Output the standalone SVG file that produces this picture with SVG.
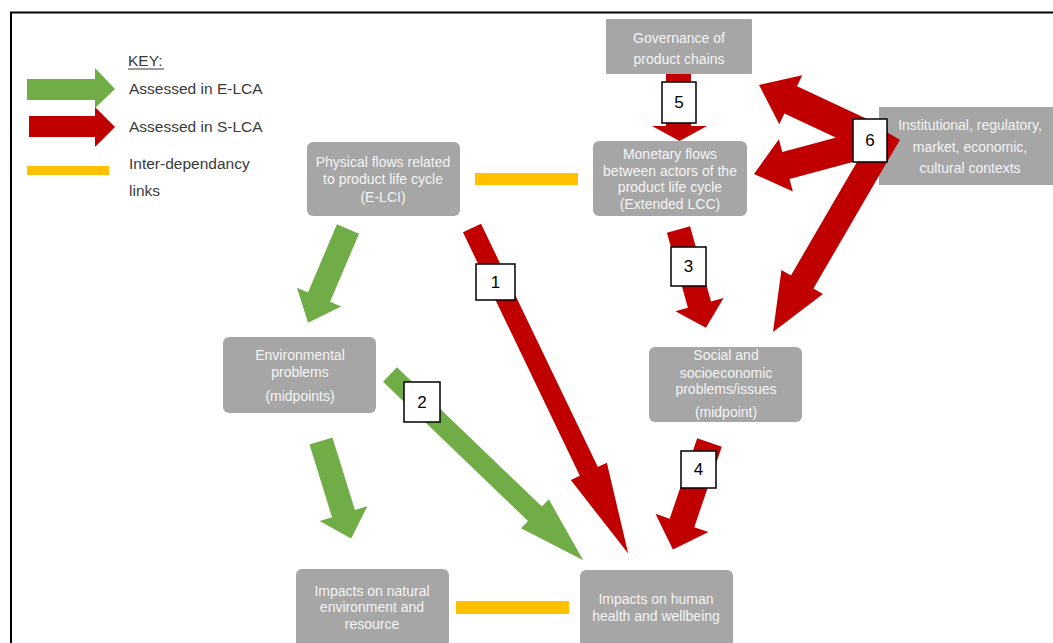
<svg xmlns="http://www.w3.org/2000/svg" width="1053" height="643" viewBox="0 0 1053 643">
  <style>
    .node { fill: #A6A6A6; }
    .ntext { font-family: "Liberation Sans", Arial, sans-serif; font-size: 14px; fill: #F4F4F4; text-anchor: middle; }
    .key { font-family: "Liberation Sans", Arial, sans-serif; font-size: 15.5px; fill: #3A3A3A; }
    .green { fill: #70AD47; }
    .red { fill: #C00000; }
    .link { fill: #FFC000; }
    .tag rect { fill: #FFFFFF; stroke: #000000; stroke-width: 1.5; }
    .tag text { font-family: "Liberation Sans", Arial, sans-serif; font-size: 17px; fill: #000000; text-anchor: middle; }
  </style>

  <rect width="1053" height="643" fill="#FFFFFF"/>

  <!-- frame -->
  <path d="M11 643 V12.5 H1053" fill="none" stroke="#000000" stroke-width="2"/>

  <!-- key -->
  <g id="legend">
    <text class="key" x="128" y="66">KEY:</text>
    <rect x="128" y="68.5" width="36" height="1" fill="#3A3A3A"/>
    <polygon class="green" points="27,79 95,79 95,68 115,89 95,108 95,100 27,100"/>
    <text class="key" x="129" y="94">Assessed in E-LCA</text>
    <polygon class="red" points="29,116 95,116 95,107 115,127 95,147 95,137 29,137"/>
    <text class="key" x="129" y="132">Assessed in S-LCA</text>
    <rect class="link" x="27" y="166" width="82" height="9"/>
    <text class="key" x="129" y="169">Inter-dependancy</text>
    <text class="key" x="129" y="196">links</text>
  </g>

  <!-- nodes -->
  <g id="node-governance">
    <rect class="node" x="606" y="19" width="146" height="55" rx="1"/>
    <text class="ntext" x="679" y="43">Governance of</text>
    <text class="ntext" x="679" y="64">product chains</text>
  </g>
  <g id="node-monetary">
    <rect class="node" x="593" y="141" width="154" height="75" rx="6"/>
    <text class="ntext" x="670" y="159">Monetary flows</text>
    <text class="ntext" x="670" y="176">between actors of the</text>
    <text class="ntext" x="670" y="192">product life cycle</text>
    <text class="ntext" x="670" y="209">(Extended LCC)</text>
  </g>
  <g id="node-institutional">
    <rect class="node" x="879" y="107" width="180" height="78"/>
    <text class="ntext" x="970" y="130">Institutional, regulatory,</text>
    <text class="ntext" x="970" y="152">market, economic,</text>
    <text class="ntext" x="970" y="173">cultural contexts</text>
  </g>
  <g id="node-physical">
    <rect class="node" x="307" y="142" width="153" height="74" rx="6"/>
    <text class="ntext" x="383" y="167">Physical flows related</text>
    <text class="ntext" x="383" y="184">to product life cycle</text>
    <text class="ntext" x="383" y="202">(E-LCI)</text>
  </g>
  <g id="node-environmental">
    <rect class="node" x="223" y="337" width="153" height="76" rx="6"/>
    <text class="ntext" x="300" y="360">Environmental</text>
    <text class="ntext" x="300" y="377">problems</text>
    <text class="ntext" x="300" y="401">(midpoints)</text>
  </g>
  <g id="node-social">
    <rect class="node" x="649" y="347" width="153" height="75" rx="6"/>
    <text class="ntext" x="726" y="360">Social and</text>
    <text class="ntext" x="726" y="378">socioeconomic</text>
    <text class="ntext" x="726" y="394">problems/issues</text>
    <text class="ntext" x="726" y="417">(midpoint)</text>
  </g>
  <g id="node-natural">
    <rect class="node" x="296" y="569" width="153" height="90" rx="6"/>
    <text class="ntext" x="372" y="596">Impacts on natural</text>
    <text class="ntext" x="372" y="612">environment and</text>
    <text class="ntext" x="372" y="629">resource</text>
  </g>
  <g id="node-human">
    <rect class="node" x="580" y="570" width="153" height="90" rx="6"/>
    <text class="ntext" x="656" y="604">Impacts on human</text>
    <text class="ntext" x="656" y="621">health and wellbeing</text>
  </g>

  <!-- connectors -->
  <g id="connectors">
    <!-- inter-dependency links -->
    <rect class="link" x="475" y="173" width="103" height="12"/>
    <rect class="link" x="456" y="601" width="113" height="13"/>

    <!-- E-LCA arrows -->
    <polygon class="green" transform="translate(348 229) rotate(113.05)" points="0,-12 74,-12 74,-24 102,0 74,24 74,12 0,12"/>
    <polygon class="green" transform="translate(321 441) rotate(72.8)" points="0,-12 76,-12 76,-25 102,0 76,25 76,12 0,12"/>
    <polygon class="green" transform="translate(390 374.5) rotate(43.86)" points="0,-10 201,-10 201,-20 268,0 201,20 201,10 0,10"/>

    <!-- S-LCA arrows -->
    <polygon class="red" transform="translate(472 228) rotate(64.36)" points="0,-10 270,-10 270,-20 361,0 270,20 270,10 0,10"/>
    <polygon class="red" transform="translate(678.5 229.5) rotate(74.4)" points="0,-12 78,-12 78,-25 102,0 78,25 78,12 0,12"/>
    <polygon class="red" transform="translate(709.5 442.5) rotate(108.9)" points="0,-13 85,-13 85,-28 113,0 85,28 85,13 0,13"/>
    <polygon class="red" points="666,74 691,74 691,126 707,126 679.5,141 652,126 666,126"/>
    <polygon class="red" transform="translate(865 134.6) rotate(205.1)" points="0,-15 82,-15 82,-27 117,0 82,27 82,15 0,15"/>
    <polygon class="red" transform="translate(865.1 144.2) rotate(165)" points="0,-14 82,-14 82,-27 115,0 82,27 82,14 0,14"/>
    <polygon class="red" transform="translate(888.7 133.3) rotate(120.2)" points="0,-13 172,-13 172,-24 230,0 172,24 172,13 0,13"/>
  </g>

  <!-- numbered tags -->
  <g id="tag-1" class="tag"><rect x="476" y="264" width="39" height="36"/><text x="495.5" y="288">1</text></g>
  <g id="tag-2" class="tag"><rect x="404" y="382" width="36" height="40"/><text x="422" y="408">2</text></g>
  <g id="tag-3" class="tag"><rect x="671" y="247" width="35" height="39"/><text x="688.5" y="272">3</text></g>
  <g id="tag-4" class="tag"><rect x="681" y="451" width="35" height="37"/><text x="698.5" y="475">4</text></g>
  <g id="tag-5" class="tag"><rect x="662" y="82" width="34" height="41"/><text x="679" y="108">5</text></g>
  <g id="tag-6" class="tag"><rect x="853" y="119" width="34" height="43"/><text x="870" y="146">6</text></g>
</svg>
